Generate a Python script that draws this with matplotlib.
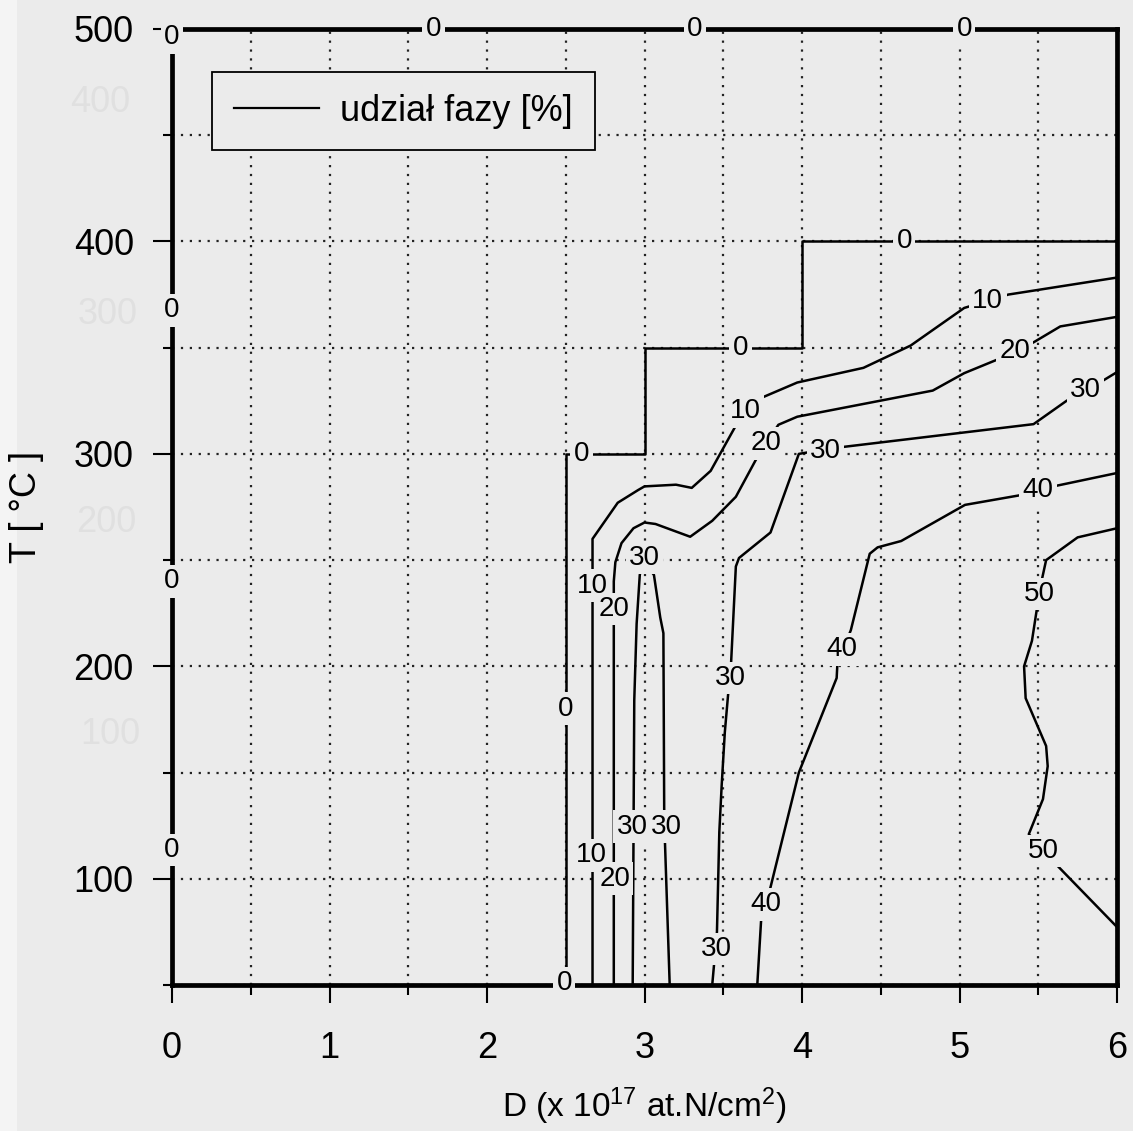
import matplotlib.pyplot as plt
from matplotlib.lines import Line2D
from matplotlib.patches import Rectangle
from matplotlib.ticker import MultipleLocator

plt.rcParams['font.family'] = ['Liberation Sans', 'DejaVu Sans']
plt.rcParams['mathtext.default'] = 'regular'

BG = '#ebebeb'

# isolines of phase share [%]; D in 1e17 at.N/cm^2, T in deg C
iso0_d = [2.5, 2.5, 3.0, 3.0, 4.0, 4.0, 6.0]
iso0_t = [50, 300, 300, 350, 350, 400, 400]
lab0_d = [2.6, 3.61, 4.65, 2.5, 2.49]
lab0_t = [300, 350, 400, 180, 51]

# 0 % along the plot border (left and top edges)
edge0_d = [0, 1.66, 3.32, 5.03, 0, 0, 0]
edge0_t = [496, 500, 500, 500, 367.5, 240, 113.5]

iso10_d = [2.67, 2.67, 2.67, 2.83, 2.96, 3.0, 3.2, 3.3, 3.42, 3.6, 3.73,
           3.97, 4.39, 4.69, 5.03, 5.31, 6.0]
iso10_t = [50, 250, 260, 277, 283, 284.7, 285.5, 284, 292, 316, 326,
           333.6, 340.5, 351, 368.7, 375, 383]
lab10_d = [2.665, 2.67, 3.64, 5.18]
lab10_t = [111, 238, 320, 372]

iso20_d = [2.805, 2.805, 2.815, 2.854, 2.93, 3.0, 3.07, 3.18, 3.29, 3.43,
           3.58, 3.72, 3.85, 3.97, 4.83, 5.03, 5.26, 5.47, 5.64, 6.0]
iso20_t = [50, 240, 249, 258, 265, 267.7, 267, 264, 261, 268.5,
           279.8, 299, 313.7, 317.5, 329.8, 338, 345, 352.5, 360, 364.5]
lab20_d = [2.81, 2.805, 3.77, 5.35]
lab20_t = [100, 227, 305, 348.5]

# narrow 30 % loop near D = 3
iso30a_d = [2.925, 2.93, 2.935, 2.95, 2.97, 2.99, 3.0, 3.01, 3.03, 3.06,
            3.10, 3.12, 3.125, 3.13, 3.16]
iso30a_t = [50, 117, 184, 220, 243, 250, 252, 250, 246, 243,
            223, 215.6, 133, 117, 50]
lab30a_d = [3.0, 2.922, 3.142]
lab30a_t = [251, 124.5, 124.5]

iso30b_d = [3.43, 3.46, 3.475, 3.49, 3.51, 3.53, 3.55, 3.58, 3.60, 3.80,
            3.98, 4.02, 4.23, 5.47, 5.68, 5.9, 6.0]
iso30b_t = [50, 75, 122, 144, 169, 186, 202, 247, 251, 263,
            300, 300.5, 303, 314, 325, 334, 338.5]
lab30b_d = [3.455, 3.547, 4.15, 5.8]
lab30b_t = [67, 194.5, 301.5, 330]

iso40_d = [3.716, 3.74, 3.80, 3.98, 4.22, 4.225, 4.31, 4.43, 4.48, 4.63,
           5.035, 5.42, 5.59, 6.0]
iso40_t = [50, 80, 96, 150, 194.5, 201.5, 217, 253, 256, 259,
           276, 281, 284.6, 291]
lab40_d = [3.77, 4.255, 5.5]
lab40_t = [88, 208, 283]

iso50_d = [6.0, 5.75, 5.58, 5.55, 5.525, 5.49, 5.46, 5.41, 5.42, 5.55,
           5.56, 5.53, 5.44, 5.63, 6.0]
iso50_t = [265, 260.7, 251.6, 250, 241.5, 226.4, 212, 200, 185, 162.5,
           153, 137.5, 121, 105.5, 77.3]
lab50_d = [5.505, 5.535]
lab50_t = [234, 113]

# faint show-through numbers from the reverse side of the page
ghost_text = ['400', '300', '200', '100']
ghost_x = [100, 108, 106, 110]
ghost_y = [103, 315, 522, 735]

W, H = 1133, 1131
fig = plt.figure(figsize=(W / 100, H / 100), dpi=100, facecolor=BG)
fig.patches.append(Rectangle((0, 0), 17 / W, 1, transform=fig.transFigure,
                             fc='#f4f4f4', ec='none', zorder=-2))
for s, x, y in zip(ghost_text, ghost_x, ghost_y):
    fig.text(x / W, 1 - y / H, s, fontsize=26, color='#e0e0e0',
             ha='center', va='center', zorder=-1)

ax = fig.add_axes([172 / W, 1 - 985 / H, 945 / W, 956 / H])
ax.set_facecolor(BG)
ax.patch.set_alpha(0)
ax.set_xlim(0, 6)
ax.set_ylim(50, 500)

ax.xaxis.set_major_locator(MultipleLocator(1))
ax.xaxis.set_minor_locator(MultipleLocator(0.5))
ax.yaxis.set_major_locator(MultipleLocator(100))
ax.yaxis.set_minor_locator(MultipleLocator(50))
ax.tick_params(axis='both', which='both', direction='out', width=1.5,
               color='black', labelsize=26)
ax.tick_params(axis='x', which='major', length=13, pad=20)
ax.tick_params(axis='x', which='minor', length=7)
ax.tick_params(axis='y', which='major', length=13.5, pad=14)
ax.tick_params(axis='y', which='minor', length=6.5)

ax.grid(which='both', ls=(0, (1, 3)), lw=1.6, color='#222222')
ax.set_axisbelow(True)
for sp in ax.spines.values():
    sp.set_linewidth(3.4)
    sp.set_color('black')

lines = [
    (iso0_d, iso0_t, lab0_d, lab0_t, '0'),
    (iso10_d, iso10_t, lab10_d, lab10_t, '10'),
    (iso20_d, iso20_t, lab20_d, lab20_t, '20'),
    (iso30a_d, iso30a_t, lab30a_d, lab30a_t, '30'),
    (iso30b_d, iso30b_t, lab30b_d, lab30b_t, '30'),
    (iso40_d, iso40_t, lab40_d, lab40_t, '40'),
    (iso50_d, iso50_t, lab50_d, lab50_t, '50'),
]


def put_labels(ds, ts, text):
    for d, t in zip(ds, ts):
        ax.text(d, t, text, fontsize=20, ha='center', va='center', zorder=6,
                bbox=dict(boxstyle='square,pad=0.12', fc=BG, ec='none'))


for d, t, ld, lt, txt in lines:
    ax.plot(d, t, color='black', lw=1.8, zorder=4, clip_on=False)
    put_labels(ld, lt, txt)
put_labels(edge0_d, edge0_t, '0')

ax.set_xlabel('D (x 10$^{17}$ at.N/cm$^2$)', fontsize=24)
ax.xaxis.set_label_coords(0.5, -0.105)
ax.set_ylabel('T [ °C ]', fontsize=26)
ax.yaxis.set_label_coords(-0.135, 0.5)

handle = Line2D([], [], color='black', lw=1.6)
leg = ax.legend([handle], ['udział fazy [%]'], loc='upper left',
                bbox_to_anchor=(0.0423, 0.955), borderaxespad=0,
                fontsize=26, frameon=True, fancybox=False, framealpha=1,
                facecolor=BG, edgecolor='black', handlelength=2.35,
                handletextpad=0.6, borderpad=0.6)
leg.get_frame().set_linewidth(1.3)
leg.set_zorder(7)

fig.savefig('out.png', dpi=100, facecolor=BG)
